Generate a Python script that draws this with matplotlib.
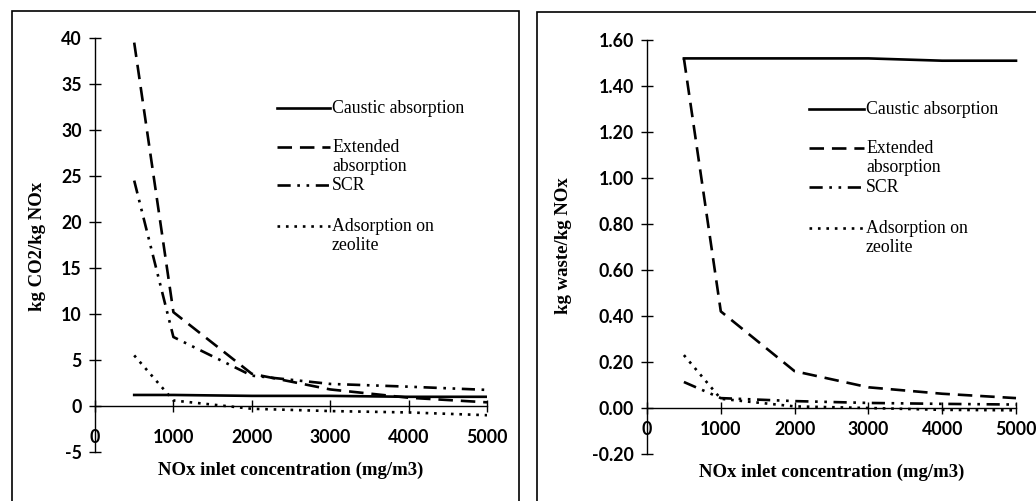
import matplotlib
matplotlib.use("Agg")
import matplotlib.pyplot as plt
from matplotlib.lines import Line2D
from matplotlib.patches import Rectangle

# ---------------- data ----------------
conc = [500, 1000, 2000, 3000, 4000, 5000]

co2_caustic = [1.2, 1.2, 1.1, 1.1, 1.0, 1.0]
co2_extended = [39.5, 10.2, 3.5, 1.8, 0.9, 0.4]
co2_scr = [24.5, 7.5, 3.3, 2.4, 2.1, 1.75]
co2_zeolite = [5.5, 0.6, -0.3, -0.55, -0.7, -1.0]

waste_caustic = [1.52, 1.52, 1.52, 1.52, 1.51, 1.51]
waste_extended = [1.52, 0.42, 0.16, 0.09, 0.062, 0.043]
waste_scr = [0.113, 0.043, 0.03, 0.022, 0.018, 0.015]
waste_zeolite = [0.23, 0.04, 0.007, 0.0, -0.008, -0.01]

series_names = ["Caustic absorption", "Extended\nabsorption", "SCR",
                "Adsorption on\nzeolite"]
x_ticks = [0, 1000, 2000, 3000, 4000, 5000]
left_yticks = [-5, 0, 5, 10, 15, 20, 25, 30, 35, 40]
right_yticks = [-0.2, 0.0, 0.2, 0.4, 0.6, 0.8, 1.0, 1.2, 1.4, 1.6]
xlabel = "NOx inlet concentration (mg/m3)"
left_ylabel = "kg CO2/kg NOx"
right_ylabel = "kg waste/kg NOx"

# ---------------- style ----------------
W, H = 1036, 501
fig = plt.figure(figsize=(W / 100, H / 100), dpi=100)
fig.patch.set_facecolor("white")

SERIF = "Liberation Serif"
TICKFONT = "Lato"
LW = 1.9
styles = [
    dict(linestyle="-", color="black", lw=LW),
    dict(linestyle=(0, (5.5, 3)), color="black", lw=LW),
    dict(linestyle=(0, (5, 2.5, 1, 2.5, 1, 2.5)), color="black", lw=LW),
    dict(linestyle=(0, (1, 2.2)), color="black", lw=LW),
]


def px_axes(x0, x1, ytop, ybot):
    return fig.add_axes([x0 / W, (H - ybot) / H, (x1 - x0) / W, (ybot - ytop) / H])


def setup(ax, yticks, ylim, yfmt, xpad):
    ax.set_xlim(0, 5000)
    ax.set_ylim(*ylim)
    for s in ("top", "right"):
        ax.spines[s].set_visible(False)
    ax.spines["bottom"].set_position(("data", 0))
    ax.spines["left"].set_bounds(ylim[0], ylim[1])
    for s in ("bottom", "left"):
        ax.spines[s].set_linewidth(1.0)
    ax.set_xticks(x_ticks)
    ax.set_yticks(yticks)
    ax.set_yticklabels([yfmt(v) for v in yticks])
    ax.tick_params(axis="both", direction="inout", length=9, width=1.0,
                   labelsize=12.8)
    ax.tick_params(axis="x", pad=xpad)
    ax.tick_params(axis="y", pad=5)
    for lab in ax.get_xticklabels() + ax.get_yticklabels():
        lab.set_fontfamily(TICKFONT)
        lab.set_fontweight("bold")
    ax.patch.set_alpha(0)


def legend(ax_x0, ax_x1, lines_y_px):
    for i, (name, st) in enumerate(zip(series_names, styles)):
        ly = lines_y_px[i]
        fig.add_artist(Line2D([ax_x0 / W, ax_x1 / W], [(H - ly) / H, (H - ly) / H],
                              transform=fig.transFigure, **st))
        fig.text((ax_x1 + 2) / W, (H - ly + 8) / H, name, fontfamily=SERIF,
                 fontsize=12.8, va="top", ha="left", linespacing=1.15)


# ---------------- left panel ----------------
axL = px_axes(95, 487, 38, 452)
setup(axL, left_yticks, (-5, 40), lambda v: f"{v:d}", xpad=12)
for ys, st in zip([co2_caustic, co2_extended, co2_scr, co2_zeolite], styles):
    axL.plot(conc, ys, **st)
fig.text(291 / W, (H - 470) / H, xlabel, fontfamily=SERIF, fontweight="bold",
         fontsize=13.5, ha="center", va="center")
fig.text(37 / W, (H - 246) / H, left_ylabel, fontfamily=SERIF, fontweight="bold",
         fontsize=13.5, ha="center", va="center", rotation=90)
legend(277, 330, [108, 147, 185, 226])

# ---------------- right panel ----------------
axR = px_axes(647, 1016, 40, 454)
setup(axR, right_yticks, (-0.2, 1.6), lambda v: f"{v:.2f}", xpad=5)
for ys, st in zip([waste_caustic, waste_extended, waste_scr, waste_zeolite], styles):
    axR.plot(conc, ys, clip_on=False, **st)
fig.text(832 / W, (H - 472) / H, xlabel, fontfamily=SERIF, fontweight="bold",
         fontsize=13.5, ha="center", va="center")
fig.text(564 / W, (H - 246) / H, right_ylabel, fontfamily=SERIF, fontweight="bold",
         fontsize=13.5, ha="center", va="center", rotation=90)
legend(809, 864, [109, 148, 187, 228])

# ---------------- outer frames ----------------
fig.add_artist(Rectangle((12 / W, -0.05), (519 - 12) / W, (H - 11) / H + 0.05,
                         transform=fig.transFigure, fill=False, lw=1.2,
                         edgecolor="black"))
fig.add_artist(Rectangle((537 / W, -0.05), 0.5, (H - 12) / H + 0.05,
                         transform=fig.transFigure, fill=False, lw=1.2,
                         edgecolor="black"))

fig.savefig("out.png", dpi=100)
